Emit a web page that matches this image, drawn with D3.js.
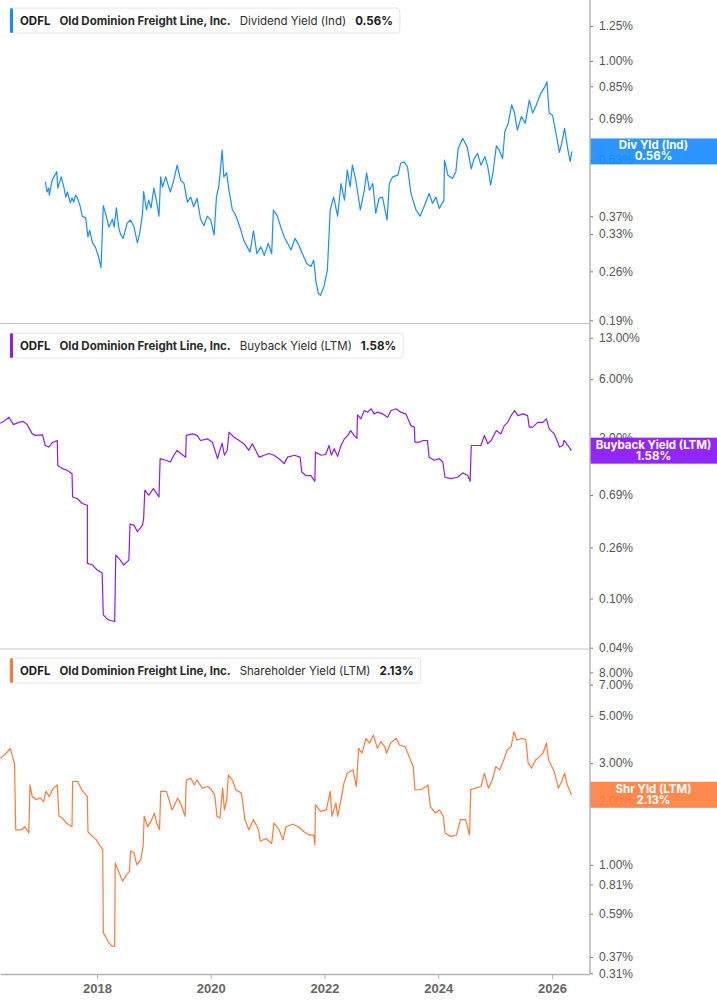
<!DOCTYPE html>
<html>
<head>
<meta charset="utf-8">
<script src="https://cdn.jsdelivr.net/npm/d3@7"></script>
<style>
  body { margin: 0; background: #fff; }
  svg { display: block; font-family: Inter, "Open Sans", sans-serif; }
</style>
</head>
<body>
<div id="chart"></div>
<script>
// dates are fractional years, values are yields in %
const divDates = [
  2017.09,2017.12,2017.15,2017.16,2017.21,2017.29,2017.31,2017.37,2017.42,2017.45,
  2017.48,2017.53,2017.56,2017.59,2017.62,2017.65,2017.70,2017.74,2017.80,2017.84,
  2017.87,2017.92,2017.97,2018.03,2018.07,2018.11,2018.15,2018.21,2018.27,2018.30,
  2018.34,2018.38,2018.41,2018.46,2018.53,2018.59,2018.65,2018.71,2018.75,2018.80,
  2018.82,2018.87,2018.91,2018.95,2019.00,2019.05,2019.09,2019.12,2019.15,2019.21,
  2019.25,2019.29,2019.35,2019.41,2019.47,2019.53,2019.59,2019.65,2019.70,2019.76,
  2019.82,2019.88,2019.94,2020.00,2020.06,2020.10,2020.14,2020.17,2020.20,2020.23,
  2020.28,2020.32,2020.38,2020.42,2020.47,2020.53,2020.58,2020.64,2020.69,2020.75,
  2020.81,2020.88,2020.94,2021.01,2021.07,2021.10,2021.17,2021.23,2021.29,2021.35,
  2021.41,2021.48,2021.55,2021.61,2021.69,2021.76,2021.81,2021.85,2021.89,2021.93,
  2021.99,2022.05,2022.10,2022.16,2022.23,2022.29,2022.35,2022.40,2022.45,2022.49,
  2022.55,2022.63,2022.70,2022.74,2022.79,2022.85,2022.90,2022.96,2023.02,2023.10,
  2023.14,2023.20,2023.29,2023.34,2023.40,2023.46,2023.52,2023.61,2023.68,2023.75,
  2023.84,2023.90,2023.96,2024.02,2024.10,2024.11,2024.17,2024.25,2024.31,2024.35,
  2024.43,2024.51,2024.58,2024.63,2024.69,2024.75,2024.82,2024.87,2024.92,2024.96,
  2025.02,2025.07,2025.13,2025.17,2025.23,2025.29,2025.34,2025.39,2025.46,2025.53,
  2025.60,2025.66,2025.72,2025.80,2025.87,2025.91,2025.95,2026.01,2026.07,2026.13,
  2026.17,2026.22,2026.28,2026.32,2026.35
];
const divValues = [
  0.461,0.432,0.443,0.423,0.466,0.492,0.443,0.476,0.443,0.418,
  0.432,0.403,0.416,0.405,0.423,0.418,0.396,0.370,0.366,0.324,
  0.338,0.312,0.304,0.284,0.266,0.396,0.376,0.345,0.363,0.345,
  0.390,0.345,0.331,0.321,0.354,0.361,0.345,0.312,0.331,0.376,
  0.433,0.385,0.410,0.390,0.443,0.405,0.370,0.476,0.446,0.476,
  0.452,0.432,0.466,0.513,0.466,0.456,0.405,0.418,0.393,0.415,
  0.364,0.348,0.370,0.361,0.328,0.418,0.446,0.497,0.565,0.476,
  0.488,0.437,0.385,0.377,0.361,0.338,0.317,0.304,0.294,0.337,
  0.291,0.304,0.288,0.311,0.291,0.385,0.370,0.345,0.324,0.311,
  0.298,0.321,0.307,0.291,0.273,0.268,0.279,0.243,0.226,0.223,
  0.236,0.262,0.385,0.418,0.370,0.456,0.410,0.497,0.446,0.513,
  0.466,0.385,0.437,0.488,0.437,0.456,0.377,0.415,0.418,0.361,
  0.456,0.476,0.481,0.519,0.524,0.507,0.428,0.385,0.370,0.393,
  0.428,0.402,0.418,0.389,0.410,0.530,0.481,0.471,0.492,0.571,
  0.609,0.575,0.501,0.535,0.553,0.513,0.542,0.507,0.452,0.488,
  0.580,0.565,0.535,0.636,0.671,0.755,0.716,0.642,0.700,0.671,
  0.778,0.716,0.752,0.811,0.845,0.875,0.716,0.706,0.628,0.557,
  0.590,0.649,0.565,0.525,0.560
];

const buybackDates = [
  2016.30,2016.36,2016.45,2016.53,2016.62,2016.70,2016.77,2016.86,2016.92,2017.04,
  2017.09,2017.15,2017.21,2017.30,2017.31,2017.39,2017.48,2017.56,2017.57,2017.65,
  2017.74,2017.83,2017.83,2017.92,2018.00,2018.09,2018.11,2018.18,2018.24,2018.31,
  2018.33,2018.41,2018.47,2018.56,2018.58,2018.65,2018.71,2018.80,2018.82,2018.84,
  2018.91,2018.99,2019.09,2019.11,2019.21,2019.29,2019.35,2019.41,2019.47,2019.56,
  2019.57,2019.68,2019.76,2019.82,2019.94,2020.03,2020.12,2020.16,2020.20,2020.24,
  2020.29,2020.32,2020.41,2020.50,2020.58,2020.67,2020.73,2020.85,2020.94,2021.02,
  2021.11,2021.20,2021.29,2021.35,2021.47,2021.57,2021.60,2021.67,2021.76,2021.83,
  2021.84,2021.94,2022.02,2022.08,2022.12,2022.17,2022.23,2022.29,2022.35,2022.41,
  2022.46,2022.52,2022.57,2022.58,2022.64,2022.70,2022.76,2022.82,2022.87,2022.93,
  2023.02,2023.11,2023.17,2023.26,2023.34,2023.43,2023.52,2023.58,2023.59,2023.67,
  2023.73,2023.81,2023.84,2023.93,2024.02,2024.08,2024.12,2024.22,2024.34,2024.43,
  2024.52,2024.56,2024.58,2024.66,2024.75,2024.81,2024.87,2024.93,2025.02,2025.10,
  2025.16,2025.22,2025.28,2025.34,2025.40,2025.49,2025.57,2025.60,2025.66,2025.75,
  2025.84,2025.90,2025.95,2026.04,2026.10,2026.13,2026.19,2026.21,2026.28,2026.34
];
const buybackValues = [
  2.63,2.73,2.95,2.57,2.68,2.73,2.57,2.16,2.10,2.12,
  1.74,1.69,1.83,1.91,1.20,1.13,1.09,1.025,0.666,0.647,
  0.590,0.571,0.193,0.187,0.171,0.161,0.0738,0.0682,0.0664,0.0652,
  0.225,0.205,0.187,0.205,0.401,0.394,0.348,0.394,0.446,0.755,
  0.688,0.779,0.666,1.36,1.32,1.28,1.45,1.59,1.50,1.40,
  2.10,2.16,2.10,1.91,1.97,1.85,1.36,1.59,1.82,1.45,
  1.59,2.23,2.03,1.91,1.80,1.59,1.80,1.40,1.45,1.50,
  1.45,1.36,1.24,1.40,1.45,1.40,1.06,0.993,0.993,0.892,
  1.54,1.45,1.47,1.74,1.45,1.64,1.42,1.74,1.97,2.10,
  2.30,2.10,1.99,3.08,2.86,3.34,3.24,3.45,3.14,3.24,
  3.14,2.95,3.34,3.45,3.24,3.14,2.52,2.45,1.85,1.85,
  1.91,1.91,1.40,1.32,1.36,1.28,0.962,0.938,0.962,1.044,
  0.993,0.892,1.74,1.74,1.74,2.10,1.80,1.91,2.30,2.16,
  2.52,2.68,3.04,3.34,3.04,3.14,3.04,2.45,2.45,2.68,
  2.68,2.86,2.37,2.16,1.85,1.69,1.74,1.91,1.74,1.58
];

const shrDates = [
  2016.30,2016.37,2016.43,2016.47,2016.50,2016.53,2016.55,2016.57,2016.67,2016.73,
  2016.80,2016.82,2016.86,2016.93,2017.00,2017.06,2017.10,2017.16,2017.23,2017.30,
  2017.33,2017.39,2017.46,2017.56,2017.57,2017.66,2017.73,2017.83,2017.84,2017.92,
  2017.99,2018.06,2018.10,2018.11,2018.19,2018.26,2018.31,2018.32,2018.39,2018.45,
  2018.52,2018.57,2018.59,2018.65,2018.70,2018.77,2018.81,2018.83,2018.89,2018.95,
  2019.01,2019.05,2019.10,2019.12,2019.22,2019.32,2019.42,2019.48,2019.55,2019.57,
  2019.65,2019.71,2019.76,2019.85,2019.95,2020.01,2020.07,2020.11,2020.16,2020.21,
  2020.24,2020.28,2020.31,2020.38,2020.44,2020.54,2020.60,2020.67,2020.75,2020.84,
  2020.87,2020.97,2021.07,2021.11,2021.20,2021.27,2021.32,2021.44,2021.54,2021.64,
  2021.73,2021.81,2021.83,2021.84,2021.93,2022.03,2022.10,2022.13,2022.20,2022.23,
  2022.30,2022.34,2022.40,2022.50,2022.56,2022.60,2022.66,2022.73,2022.79,2022.86,
  2022.93,2022.99,2023.06,2023.09,2023.16,2023.26,2023.32,2023.42,2023.49,2023.56,
  2023.59,2023.69,2023.79,2023.82,2023.86,2023.95,2024.02,2024.09,2024.12,2024.22,
  2024.32,2024.39,2024.48,2024.55,2024.57,2024.65,2024.75,2024.81,2024.88,2024.95,
  2025.01,2025.08,2025.15,2025.21,2025.28,2025.33,2025.38,2025.48,2025.54,2025.58,
  2025.64,2025.71,2025.78,2025.84,2025.90,2025.94,2026.04,2026.11,2026.17,2026.22,
  2026.27,2026.34
];
const shrValues = [
  3.16,3.27,3.40,3.52,3.34,3.10,2.99,1.46,1.46,1.51,
  1.41,2.37,2.09,2.02,2.06,1.98,2.21,2.09,2.29,2.37,
  1.69,1.66,1.57,1.51,2.46,2.46,2.25,2.09,1.43,1.36,
  1.31,1.22,1.18,0.481,0.439,0.416,0.416,1.02,0.917,0.838,
  0.900,0.933,1.16,1.14,1.00,1.06,1.22,1.69,1.51,1.60,
  1.75,1.57,1.46,2.21,2.21,1.81,2.06,1.91,1.69,2.50,
  2.55,2.37,2.50,2.29,2.33,2.25,2.13,1.69,1.66,2.29,
  1.81,2.02,2.64,2.50,2.25,2.17,1.63,1.46,1.63,1.46,
  1.29,1.33,1.26,1.57,1.46,1.31,1.51,1.55,1.51,1.43,
  1.38,1.38,1.24,1.91,1.78,1.81,2.21,1.69,1.95,1.69,
  2.09,2.41,2.69,2.79,2.33,3.52,3.34,3.92,3.72,4.06,
  3.52,3.78,3.58,3.34,3.72,3.92,3.65,3.58,3.21,2.89,
  2.25,2.25,2.33,2.37,1.88,1.75,1.81,1.69,1.41,1.36,
  1.38,1.63,1.63,1.38,2.25,2.29,2.33,2.69,2.29,2.50,
  2.89,2.79,3.10,3.46,3.58,4.21,3.85,3.92,3.85,3.00,
  2.84,3.10,3.21,3.34,3.72,3.10,2.74,2.29,2.46,2.69,
  2.37,2.13
];

const divTicks = [0.19, 0.26, 0.33, 0.37, 0.53, 0.69, 0.85, 1.00, 1.25];
const buybackTicks = [0.04, 0.10, 0.26, 0.69, 2.00, 6.00, 13.00];
const shrTicks = [0.31, 0.37, 0.59, 0.81, 1.00, 2.00, 3.00, 5.00, 7.00, 8.00];
const xTickYears = [2018, 2020, 2022, 2024, 2026];

const ticker = "ODFL";
const company = "Old Dominion Freight Line, Inc.";

function yearToDate(y) {
    const yr = Math.floor(y);
    const start = Date.UTC(yr, 0, 1), end = Date.UTC(yr + 1, 0, 1);
    return new Date(start + (y - yr) * (end - start));
}

const width = 717, height = 1005;
const axisX = 590;
const baseY = 974;

const panels = [
    { dates: divDates, values: divValues, ticks: divTicks,
      metric: "Dividend Yield (Ind)", tag: "Div Yld (Ind)",
      color: "#1a8cff", tagColor: "#1a8cff",
      scaleRange: [320.3, 26], bottom: 323.5, legendY: 8 },
    { dates: buybackDates, values: buybackValues, ticks: buybackTicks,
      metric: "Buyback Yield (LTM)", tag: "Buyback Yield (LTM)",
      color: "#8a1cff", tagColor: "#8a14ff",
      scaleRange: [647.7, 337.7], bottom: 649, legendY: 333 },
    { dates: shrDates, values: shrValues, ticks: shrTicks,
      metric: "Shareholder Yield (LTM)", tag: "Shr Yld (LTM)",
      color: "#ff7a3a", tagColor: "#ff7f3f",
      scaleRange: [973.3, 672.3], bottom: null, legendY: 658 }
];

const svg = d3.select("#chart").append("svg")
    .attr("width", width)
    .attr("height", height);

const x = d3.scaleUtc()
    .domain([yearToDate(2016.2945), yearToDate(2026.668)])
    .range([0, axisX]);

const pct = d => d3.format(".2f")(d) + "%";

panels.forEach(p => {
    const y = d3.scaleLog()
        .domain([p.ticks[0], p.ticks[p.ticks.length - 1]])
        .range(p.scaleRange);

    const data = p.dates.map((d, i) => ({ date: yearToDate(d), value: p.values[i] }));
    const last = data[data.length - 1];

    // panel separator
    if (p.bottom !== null) {
        svg.append("line")
            .attr("x1", 0).attr("x2", axisX)
            .attr("y1", p.bottom).attr("y2", p.bottom)
            .attr("stroke", "#c6c6c6")
            .attr("stroke-width", 1.2);
    }

    const line = d3.line()
        .x(d => x(d.date))
        .y(d => y(d.value));

    svg.append("path")
        .datum(data)
        .attr("fill", "none")
        .attr("stroke", p.color)
        .attr("stroke-width", 1.2)
        .attr("stroke-linejoin", "round")
        .attr("d", line);

    // right axis
    const ax = svg.append("g")
        .attr("transform", `translate(${axisX},0)`)
        .call(d3.axisRight(y).tickValues(p.ticks).tickFormat(pct).tickSize(3).tickPadding(6));
    ax.select(".domain").remove();
    ax.selectAll(".tick line").attr("stroke", "#777");
    ax.selectAll(".tick text")
        .attr("fill", "#555")
        .style("font-size", "12px");

    // last value tag
    const ty = y(last.value);
    const tag = svg.append("g");
    tag.append("rect")
        .attr("x", axisX)
        .attr("y", ty - 13)
        .attr("width", width - axisX)
        .attr("height", 26)
        .attr("fill", p.tagColor)
        .attr("fill-opacity", 0.92);
    tag.append("text")
        .attr("x", (axisX + width) / 2)
        .attr("y", ty - 2)
        .attr("text-anchor", "middle")
        .attr("fill", "#fff")
        .style("font-size", "11.5px")
        .style("font-weight", "bold")
        .text(p.tag);
    tag.append("text")
        .attr("x", (axisX + width) / 2)
        .attr("y", ty + 9)
        .attr("text-anchor", "middle")
        .attr("fill", "#fff")
        .style("font-size", "11.5px")
        .style("font-weight", "bold")
        .text(pct(last.value));

    // legend box
    const lg = svg.append("g")
        .attr("transform", `translate(10,${p.legendY})`);
    const box = lg.append("rect")
        .attr("x", 0).attr("y", 0)
        .attr("height", 25)
        .attr("rx", 3)
        .attr("fill", "#fff")
        .attr("stroke", "#e4e4e4");
    lg.append("rect")
        .attr("x", 0).attr("y", 0)
        .attr("width", 3).attr("height", 25)
        .attr("rx", 1.5)
        .attr("fill", p.color);

    const parts = [
        { t: ticker, w: "bold", c: "#1c1c1c" },
        { t: company, w: "bold", c: "#2a2a2a" },
        { t: p.metric, w: "normal", c: "#2e2e2e" },
        { t: pct(last.value), w: "bold", c: "#1c1c1c" }
    ];
    let cx = 10;
    parts.forEach(pt => {
        const tx = lg.append("text")
            .attr("x", cx)
            .attr("y", 17)
            .attr("fill", pt.c)
            .style("font-size", "11.5px")
            .style("font-weight", pt.w)
            .text(pt.t);
        cx += tx.node().getComputedTextLength() + 9;
    });
    box.attr("width", cx - 9 + 7);
});

// vertical axis line
svg.append("line")
    .attr("x1", axisX).attr("x2", axisX)
    .attr("y1", 0).attr("y2", baseY)
    .attr("stroke", "#b4b4b4")
    .attr("stroke-width", 1.5);

// x axis
const xa = svg.append("g")
    .attr("transform", `translate(0,${baseY})`)
    .call(d3.axisBottom(x)
        .tickValues(xTickYears.map(yearToDate))
        .tickFormat(d3.utcFormat("%Y"))
        .tickSize(5)
        .tickSizeOuter(0)
        .tickPadding(5));
xa.select(".domain").attr("stroke", "#b4b4b4").attr("stroke-width", 1.5);
xa.selectAll(".tick line").attr("stroke", "#b4b4b4");
xa.selectAll(".tick text")
    .attr("fill", "#666")
    .style("font-size", "13px")
    .style("font-weight", "bold");
</script>
</body>
</html>
